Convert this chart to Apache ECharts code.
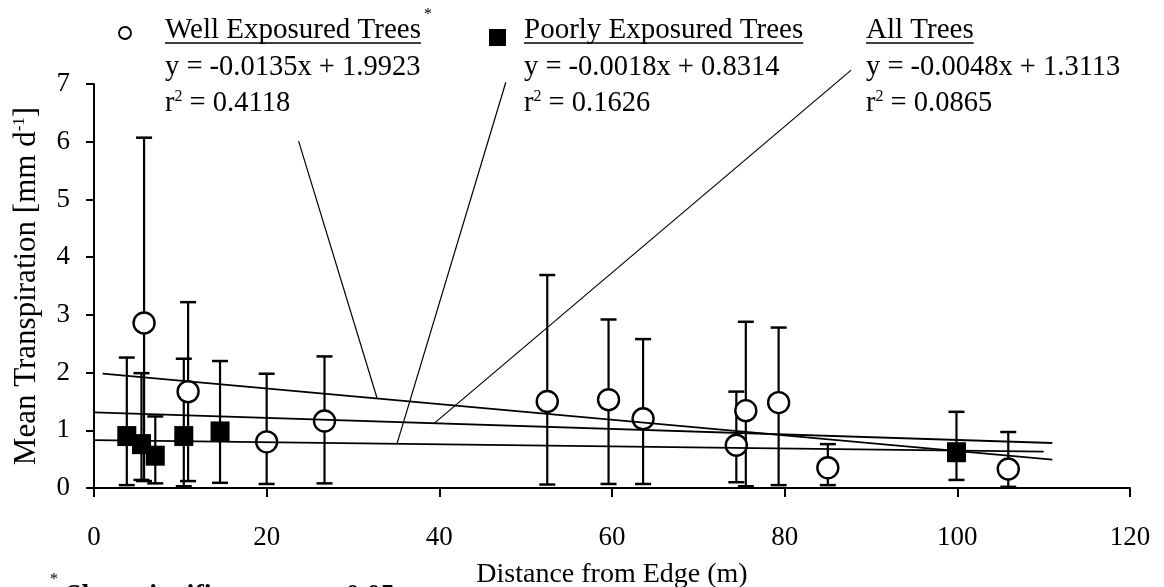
<!DOCTYPE html>
<html>
<head>
<meta charset="utf-8">
<title>Mean Transpiration vs Distance from Edge</title>
<script src="https://cdn.jsdelivr.net/npm/echarts@6/dist/echarts.min.js"></script>
<style>
  html, body { margin: 0; padding: 0; background: #fff; }
  #chart { width: 1164px; height: 587px; }
</style>
</head>
<body>
<div id="chart"></div>
<script>
// Well exposured trees (open circles), mean and error bar ends
const wellX = [5.8, 10.9, 20.0, 26.7, 52.5, 59.6, 63.6, 74.4, 75.5, 79.3, 85.0, 105.9]
const wellY = [2.86, 1.67, 0.80, 1.16, 1.50, 1.53, 1.20, 0.74, 1.34, 1.48, 0.35, 0.33]
const wellHi = [6.07, 3.22, 1.98, 2.28, 3.69, 2.92, 2.58, 1.67, 2.88, 2.78, 0.76, 0.97]
const wellLo = [0.12, 0.12, 0.07, 0.08, 0.06, 0.07, 0.07, 0.10, 0.03, 0.05, 0.05, 0.02]

// Poorly exposured trees (filled squares)
const poorX = [3.8, 5.5, 7.1, 10.4, 14.6, 99.9]
const poorY = [0.90, 0.76, 0.56, 0.90, 0.98, 0.62]
const poorHi = [2.26, 1.99, 1.24, 2.24, 2.20, 1.32]
const poorLo = [0.05, 0.14, 0.08, 0.03, 0.09, 0.14]

// regression line ends
const wellFit = [[1, 1.98], [111, 0.49]]
const poorFit = [[0, 0.83], [110, 0.63]]
const allFit = [[0, 1.31], [111, 0.78]]

// leader lines from the equations down to the fits
const wellLeader = [[23.7, 6.01], [32.8, 1.55]]
const poorLeader = [[47.7, 7.03], [35.1, 0.77]]
const allLeader = [[87.7, 7.24], [39.4, 1.12]]

const xTicks = [0, 20, 40, 60, 80, 100, 120]
const yTicks = [0, 1, 2, 3, 4, 5, 6, 7]

const FONT = '"Liberation Serif", "Times New Roman", serif'
const BLACK = '#000'

const chart = echarts.init(document.getElementById('chart'))

function pairs(xs, ys) {
  return xs.map((x, i) => [x, ys[i]])
}

function bars(xs, lo, hi) {
  return xs.map((x, i) => [x, lo[i], hi[i]])
}

// error bar: stem plus two caps
function renderErrorBar(params, api) {
  const x = api.value(0)
  const lo = api.coord([x, api.value(1)])
  const hi = api.coord([x, api.value(2)])
  const half = 8
  const cap = { stroke: BLACK, lineWidth: 2.5 }
  return {
    type: 'group',
    children: [
      { type: 'line', shape: { x1: lo[0], y1: lo[1], x2: hi[0], y2: hi[1] }, style: { stroke: BLACK, lineWidth: 2.2 } },
      { type: 'line', shape: { x1: hi[0] - half, y1: hi[1], x2: hi[0] + half, y2: hi[1] }, style: cap },
      { type: 'line', shape: { x1: lo[0] - half, y1: lo[1], x2: lo[0] + half, y2: lo[1] }, style: cap }
    ]
  }
}

function textWidth(str, size) {
  const ctx = document.createElement('canvas').getContext('2d')
  ctx.font = size + 'px ' + FONT
  return ctx.measureText(str).width
}

const rich = {
  s: { fontSize: 16, lineHeight: 16, verticalAlign: 'top', fontFamily: FONT, fill: BLACK }
}

function label(x, y, text, size) {
  return {
    type: 'text',
    x: x,
    y: y,
    z: 100,
    style: {
      text: text,
      fontFamily: FONT,
      fontSize: size || 28.5,
      lineHeight: 30,
      fill: BLACK,
      verticalAlign: 'middle',
      rich: rich
    }
  }
}

function small(x, y, text) {
  return {
    type: 'text',
    x: x,
    y: y,
    z: 100,
    style: { text: text, fontFamily: FONT, fontSize: 16, fill: BLACK, verticalAlign: 'middle' }
  }
}

function underline(x, y, str, size) {
  return {
    type: 'line',
    z: 100,
    shape: { x1: x, y1: y, x2: x + textWidth(str, size), y2: y },
    style: { stroke: BLACK, lineWidth: 1.5 }
  }
}

const HEAD = 29
const col1 = 165
const col2 = 524
const col3 = 866
const row1 = 30
const row2 = 68
const row3 = 104
const ulY = 43

const graphics = [
  { type: 'circle', z: 100, shape: { cx: 125, cy: 33, r: 6 }, style: { fill: '#fff', stroke: BLACK, lineWidth: 1.8 } },
  label(col1, row1, 'Well Exposured Trees', HEAD),
  underline(col1, ulY, 'Well Exposured Trees', HEAD),
  small(col1 + textWidth('Well Exposured Trees', HEAD) + 3, 15, '*'),
  label(col1, row2, 'y = -0.0135x + 1.9923'),
  label(col1, row3, 'r{s|2} = 0.4118'),

  { type: 'rect', z: 100, shape: { x: 489, y: 29, width: 17, height: 17 }, style: { fill: BLACK } },
  label(col2, row1, 'Poorly Exposured Trees', HEAD),
  underline(col2, ulY, 'Poorly Exposured Trees', HEAD),
  label(col2, row2, 'y = -0.0018x + 0.8314'),
  label(col2, row3, 'r{s|2} = 0.1626'),

  label(col3, row1, 'All Trees', HEAD),
  underline(col3, ulY, 'All Trees', HEAD),
  label(col3, row2, 'y = -0.0048x + 1.3113'),
  label(col3, row3, 'r{s|2} = 0.0865'),

  // footnote, mostly cut off by the bottom edge
  small(50, 580, '*'),
  {
    type: 'text',
    x: 66,
    y: 582,
    z: 100,
    style: { text: 'Slope significant at p < 0.05', fontFamily: FONT, fontSize: 28, fontWeight: 'bold', fill: BLACK, verticalAlign: 'top' }
  }
]

function fitLine(data, width) {
  return {
    type: 'line',
    data: data,
    symbol: 'none',
    silent: true,
    clip: false,
    z: 20,
    lineStyle: { color: BLACK, width: width }
  }
}

chart.setOption({
  animation: false,
  backgroundColor: '#fff',
  grid: { left: 94, right: 34, top: 84, bottom: 99, containLabel: false, outerBoundsMode: 'none' },
  xAxis: {
    type: 'value',
    min: xTicks[0],
    max: xTicks[xTicks.length - 1],
    interval: xTicks[1] - xTicks[0],
    name: 'Distance from Edge (m)',
    nameLocation: 'middle',
    nameGap: 73,
    nameTextStyle: { fontFamily: FONT, fontSize: 28, color: BLACK },
    axisLine: { lineStyle: { color: BLACK, width: 2 } },
    axisTick: { length: 9, lineStyle: { color: BLACK, width: 2 } },
    axisLabel: { margin: 36, fontFamily: FONT, fontSize: 27, color: BLACK },
    splitLine: { show: false }
  },
  yAxis: {
    type: 'value',
    min: yTicks[0],
    max: yTicks[yTicks.length - 1],
    interval: yTicks[1] - yTicks[0],
    name: 'Mean Transpiration [mm d{s|-1}]',
    nameLocation: 'middle',
    nameGap: 51,
    nameTextStyle: {
      fontFamily: FONT,
      fontSize: 31,
      lineHeight: 32,
      color: BLACK,
      rich: { s: { fontSize: 17, lineHeight: 17, verticalAlign: 'top', fontFamily: FONT, color: BLACK } }
    },
    axisLine: { show: true, lineStyle: { color: BLACK, width: 2 } },
    axisTick: { show: true, length: 8, lineStyle: { color: BLACK, width: 2 } },
    axisLabel: { margin: 24, fontFamily: FONT, fontSize: 27, color: BLACK },
    splitLine: { show: false }
  },
  graphic: graphics,
  series: [
    {
      type: 'custom',
      name: 'well bars',
      data: bars(wellX, wellLo, wellHi),
      renderItem: renderErrorBar,
      z: 2
    },
    {
      type: 'custom',
      name: 'poor bars',
      data: bars(poorX, poorLo, poorHi),
      renderItem: renderErrorBar,
      z: 2
    },
    {
      type: 'scatter',
      name: 'Well Exposured Trees',
      data: pairs(wellX, wellY),
      symbol: 'circle',
      symbolSize: 21,
      itemStyle: { color: '#fff', borderColor: BLACK, borderWidth: 2.4, opacity: 1 },
      z: 5
    },
    {
      type: 'scatter',
      name: 'Poorly Exposured Trees',
      data: pairs(poorX, poorY),
      symbol: 'rect',
      symbolSize: [19, 20],
      itemStyle: { color: BLACK, opacity: 1 },
      z: 6
    },
    fitLine(wellFit, 1.8),
    fitLine(poorFit, 1.8),
    fitLine(allFit, 1.8),
    fitLine(wellLeader, 1.2),
    fitLine(poorLeader, 1.2),
    fitLine(allLeader, 1.2)
  ]
})
</script>
</body>
</html>
